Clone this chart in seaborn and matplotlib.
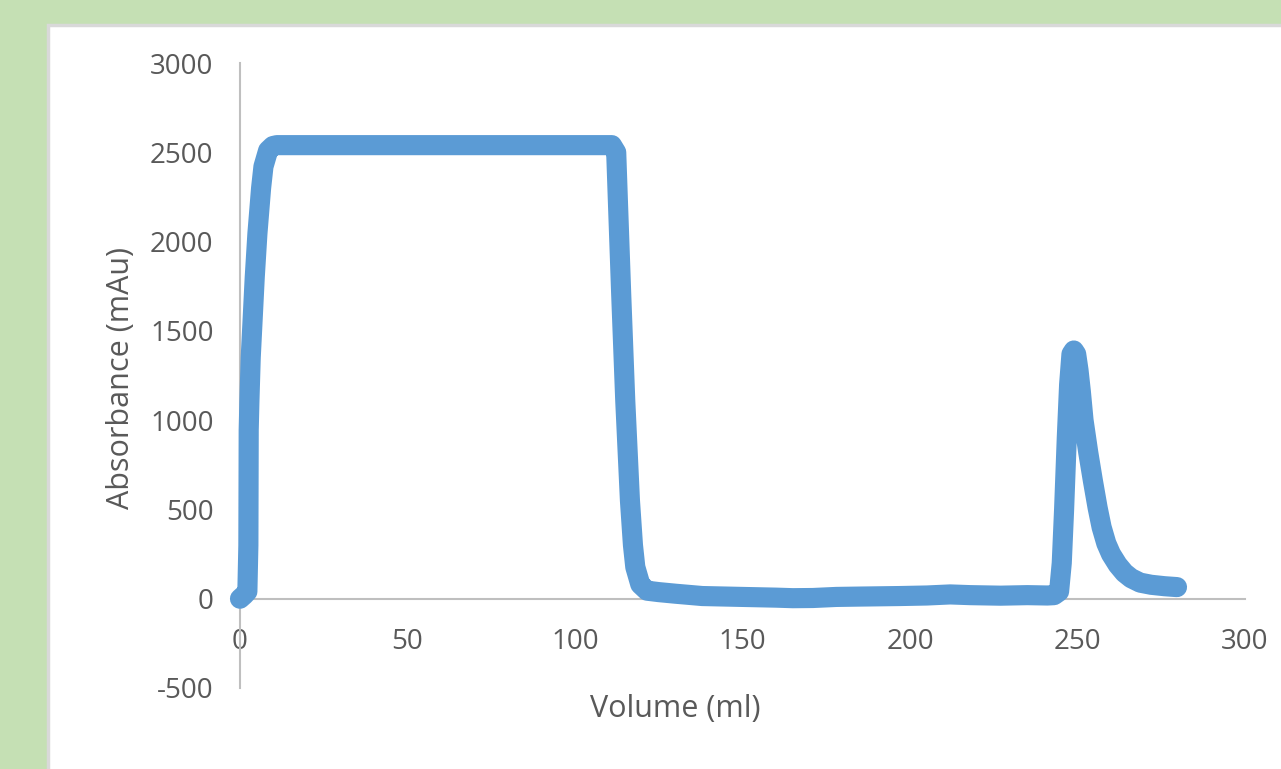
import numpy as np
import pandas as pd
import matplotlib
matplotlib.use("Agg")
import matplotlib.pyplot as plt
import seaborn as sns
from matplotlib.patches import Rectangle

# chromatogram
volume = [0, 1.2, 2.2, 2.5, 2.6, 2.8, 3.2, 3.6, 4.4, 5.2, 6.3, 7.0, 8.4, 9.8, 11,
          30, 60, 90, 111, 112.3, 112.8, 113.8, 115.0, 116.4, 117.3, 118.0, 119.5,
          121.5, 125, 130, 138, 150, 160, 165, 171, 178, 185, 197, 205, 212, 218,
          227, 235, 241, 243, 244.5, 245.3, 246.0, 246.8, 247.5, 248.2, 248.9,
          249.6, 250.3, 251.0, 251.8, 253.2, 254.6, 256.0, 257.2, 258.6, 260.0,
          262.0, 264.0, 266.0, 268.7, 272, 276, 279.7]
absorbance = [0, 20, 40, 300, 945, 1100, 1350, 1500, 1800, 2045, 2300, 2420, 2510, 2535, 2540,
              2540, 2540, 2540, 2540, 2500, 2230, 1700, 1110, 550, 300, 177, 80,
              45, 37, 28, 15, 10, 6, 3, 4, 10, 12, 15, 18, 24, 20,
              17, 20, 18, 20, 40, 200, 500, 900, 1200, 1370, 1390,
              1370, 1280, 1160, 1000, 820, 660, 510, 400, 310, 250,
              190, 145, 115, 90, 78, 70, 65]

df = pd.DataFrame({"Volume (ml)": volume, "Absorbance (mAu)": absorbance})

sns.set_style("white")
plt.rcParams["font.family"] = ["Open Sans", "DejaVu Sans"]
plt.rcParams["axes.unicode_minus"] = False

fig = plt.figure(figsize=(12.81, 7.69), dpi=100, facecolor="#C5E0B4")
# white chart area with a grey edge
fig.patches.append(Rectangle((48 / 1281, -0.01), 1.0, (769 - 25) / 769 + 0.01,
                             transform=fig.transFigure, facecolor="white",
                             edgecolor="#D9D9D9", linewidth=2.5, zorder=-5))

ax = fig.add_axes([240 / 1281, 1 - 688 / 769, (1245 - 240) / 1281, (688 - 63) / 769])
ax.set_zorder(2)
ax.patch.set_visible(False)

sns.lineplot(data=df, x="Volume (ml)", y="Absorbance (mAu)", ax=ax, sort=False,
             estimator=None, color="#5B9BD5", linewidth=14.5,
             solid_capstyle="round", solid_joinstyle="round", clip_on=False, zorder=3)

ax.set_xlim(0, 300)
ax.set_ylim(-500, 3000)
ax.set_xticks(np.arange(0, 301, 50))
ax.set_yticks(np.arange(-500, 3001, 500))

for s in ["top", "right"]:
    ax.spines[s].set_visible(False)
ax.spines["bottom"].set_position(("data", 0))
for s in ["left", "bottom"]:
    ax.spines[s].set_color("#BFBFBF")
    ax.spines[s].set_linewidth(1.5)
    ax.spines[s].set_zorder(1)

ax.tick_params(axis="both", length=0, labelsize=20, labelcolor="#595959")
ax.tick_params(axis="y", pad=19)
ax.tick_params(axis="x", pad=21)

ax.set_xlabel("Volume (ml)", fontsize=22, color="#595959")
ax.set_ylabel("Absorbance (mAu)", fontsize=22, color="#595959")
ax.xaxis.set_label_coords((675 - 240) / 1005, -(694 - 688) / 625)
ax.yaxis.set_label_coords(-(240 - 136) / 1005, (688 - 378) / 625)

fig.savefig("out.png", dpi=100, facecolor=fig.get_facecolor())
